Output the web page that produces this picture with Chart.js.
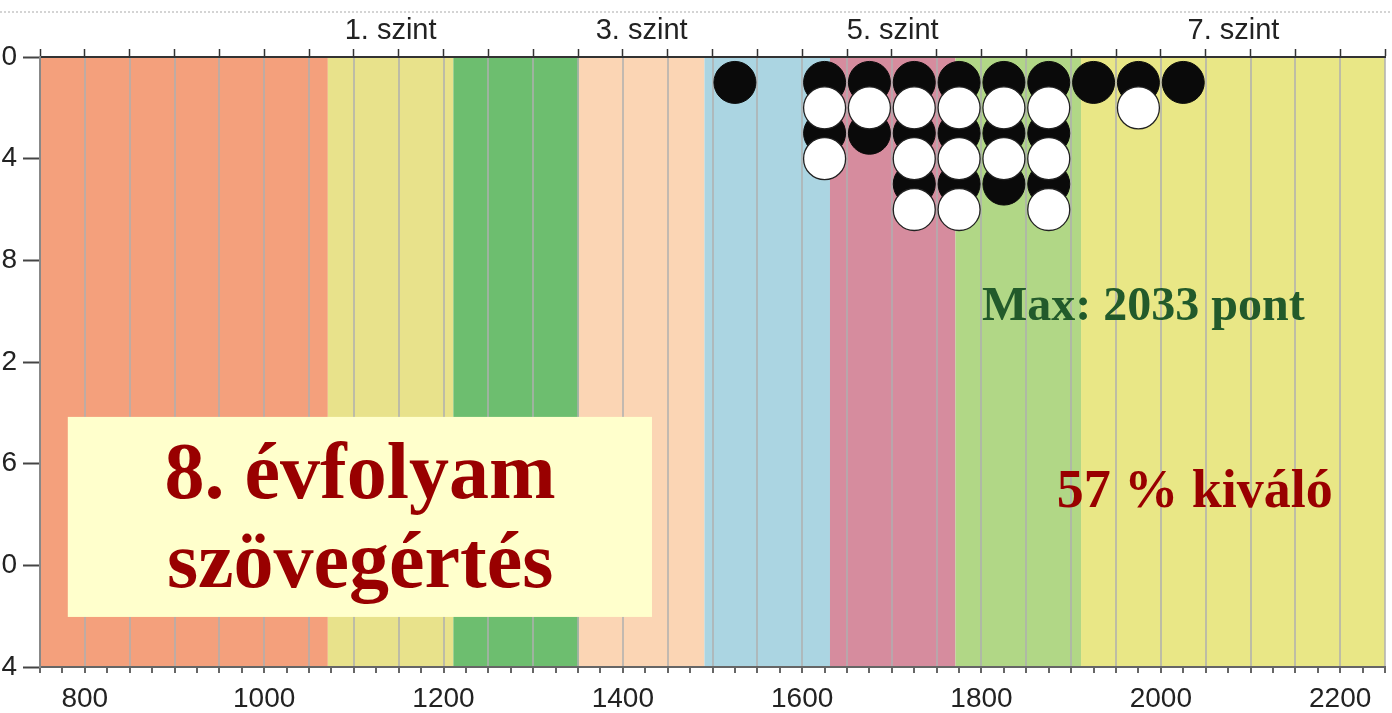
<!DOCTYPE html>
<html><head><meta charset="utf-8">
<script src="https://cdn.jsdelivr.net/npm/chart.js@4.4.1/dist/chart.umd.min.js"></script>
<style>html,body{margin:0;padding:0;background:#fff;overflow:hidden}canvas{display:block}</style>
</head><body>
<canvas id="c" width="1392" height="713"></canvas>
<script>
// ---- data ----
const scoreColumns = [1525, 1625, 1675, 1725, 1775, 1825, 1875, 1925, 1975, 2025];
const studentCounts = [1, 4, 3, 6, 6, 5, 6, 1, 2, 1];
const levelBounds = [750, 1071, 1211, 1351, 1491, 1631, 1771, 1911, 2250];
const levelColors = ['#F4A07C', '#E8E28B', '#6DBE6F', '#FBD5B4', '#ABD5E2', '#D68C9E', '#B1D786', '#E9E786'];
const topLabels = ['1. szint', '3. szint', '5. szint', '7. szint'];
const topLabelPos = [1141, 1421, 1701, 2081];
const yTicks = [0, 4, 8, 12, 16, 20, 24];
const xLabelValues = [800, 1000, 1200, 1400, 1600, 1800, 2000, 2200];
const titleLines = ['8. évfolyam', 'szövegértés'];
const maxNote = 'Max: 2033 pont';
const pctNote = '57 % kiváló';

// stacked dots: odd rows black, even rows white
const blackPts = [], whitePts = [];
scoreColumns.forEach((x, i) => {
  for (let r = 1; r <= studentCounts[i]; r++) (r % 2 ? blackPts : whitePts).push({x: x, y: r});
});

const SERIF = '"Liberation Serif", "Times New Roman", serif';
const bandsPlugin = {
  id: 'bands',
  beforeDraw(chart) {
    const {ctx, chartArea: a, scales: {x}} = chart;
    ctx.save();
    ctx.fillStyle = '#fff';
    ctx.fillRect(0, 0, chart.width, chart.height);
    ctx.strokeStyle = '#d4d4d4'; ctx.lineWidth = 2; ctx.setLineDash([2, 2]);
    ctx.beginPath(); ctx.moveTo(0, 12); ctx.lineTo(chart.width, 12); ctx.stroke();
    ctx.setLineDash([]);
    for (let i = 0; i < levelColors.length; i++) {
      const x0 = x.getPixelForValue(levelBounds[i]);
      const x1 = x.getPixelForValue(levelBounds[i + 1]);
      ctx.fillStyle = levelColors[i];
      ctx.fillRect(x0, a.top, x1 - x0, a.bottom - a.top);
    }
    ctx.restore();
  },
  afterDraw(chart) {
    const {ctx, scales: {x, y}} = chart;
    ctx.save();
    const bx0 = x.getPixelForValue(781), bx1 = x.getPixelForValue(1432.5);
    const by0 = y.getPixelForValue(14.16), by1 = y.getPixelForValue(22.03);
    ctx.fillStyle = '#FFFFCC';
    ctx.fillRect(bx0, by0, bx1 - bx0, by1 - by0);
    ctx.fillStyle = '#990000';
    ctx.textAlign = 'center'; ctx.textBaseline = 'alphabetic';
    ctx.font = 'bold 80px ' + SERIF;
    ctx.fillText(titleLines[0], x.getPixelForValue(1107), y.getPixelForValue(17.35));
    ctx.fillText(titleLines[1], x.getPixelForValue(1107), y.getPixelForValue(20.85));
    ctx.textAlign = 'left';
    ctx.fillStyle = '#225A2B';
    ctx.font = 'bold 48px ' + SERIF;
    ctx.fillText(maxNote, x.getPixelForValue(1800.5), y.getPixelForValue(10.35));
    ctx.fillStyle = '#990000';
    ctx.font = 'bold 54px ' + SERIF;
    ctx.fillText(pctNote, x.getPixelForValue(1884), y.getPixelForValue(17.7));
    ctx.restore();
  }
};

Chart.defaults.font.family = '"Liberation Sans", Arial, sans-serif';
Chart.defaults.color = '#222';

new Chart(document.getElementById('c'), {
  type: 'scatter',
  data: {
    datasets: [
      {label: 'fekete', data: blackPts, order: 2, pointRadius: 21, pointBackgroundColor: '#0a0a0a', pointBorderColor: '#0a0a0a', pointBorderWidth: 1},
      {label: 'fehér', data: whitePts, order: 1, pointRadius: 21, pointBackgroundColor: '#ffffff', pointBorderColor: '#222', pointBorderWidth: 1.3}
    ]
  },
  options: {
    responsive: false,
    animation: false,
    events: [],
    layout: {autoPadding: false, padding: {left: 0, right: 7, top: 0, bottom: 0}},
    plugins: {legend: {display: false}, tooltip: {enabled: false}},
    scales: {
      x: {
        type: 'linear', position: 'bottom', min: 750, max: 2250,
        afterFit: s => { s.height = 46; s.paddingLeft = 0; s.paddingRight = 0; },
        ticks: {
          stepSize: 25, autoSkip: false, maxRotation: 0, minRotation: 0, padding: 9,
          font: {size: 28}, color: '#222',
          callback: v => xLabelValues.includes(v) ? String(v) : ''
        },
        grid: {
          drawOnChartArea: true, drawTicks: true, tickLength: 6,
          color: c => (c.tick && c.tick.value % 50 === 0) ? 'rgba(175,175,175,0.75)' : 'rgba(0,0,0,0)',
          lineWidth: 2,
          tickColor: '#333', tickWidth: 1.5
        },
        border: {display: true, color: '#666', width: 2}
      },
      xTop: {
        type: 'linear', position: 'top', min: 750, max: 2250,
        afterFit: s => { s.height = 57; s.paddingLeft = 0; s.paddingRight = 0; },
        afterBuildTicks: s => {
          const t = [];
          for (let v = 750; v <= 2250; v += 50) t.push(v);
          topLabelPos.forEach(p => t.push(p));
          t.sort((a, b) => a - b);
          s.ticks = t.map(v => ({value: v}));
        },
        ticks: {
          autoSkip: false, maxRotation: 0, minRotation: 0, padding: 1,
          font: {size: 29}, color: '#222',
          callback: v => { const i = topLabelPos.indexOf(v); return i >= 0 ? topLabels[i] : ''; }
        },
        grid: {
          drawOnChartArea: false, drawTicks: true, tickLength: 8,
          tickColor: c => (c.tick && topLabelPos.includes(c.tick.value)) ? 'rgba(0,0,0,0)' : '#333',
          tickWidth: 1.5
        },
        border: {display: true, color: '#333', width: 2}
      },
      y: {
        type: 'linear', position: 'left', reverse: true, min: 0, max: 24,
        afterFit: s => { s.width = 40; },
        afterBuildTicks: s => { s.ticks = yTicks.map(v => ({value: v})); },
        ticks: {padding: 6, font: {size: 28}, color: '#222', autoSkip: false},
        grid: {drawOnChartArea: false, drawTicks: true, tickLength: 17, tickColor: '#444', tickWidth: 2},
        border: {display: true, color: '#888', width: 2}
      }
    }
  },
  plugins: [bandsPlugin]
});
</script>
</body></html>
